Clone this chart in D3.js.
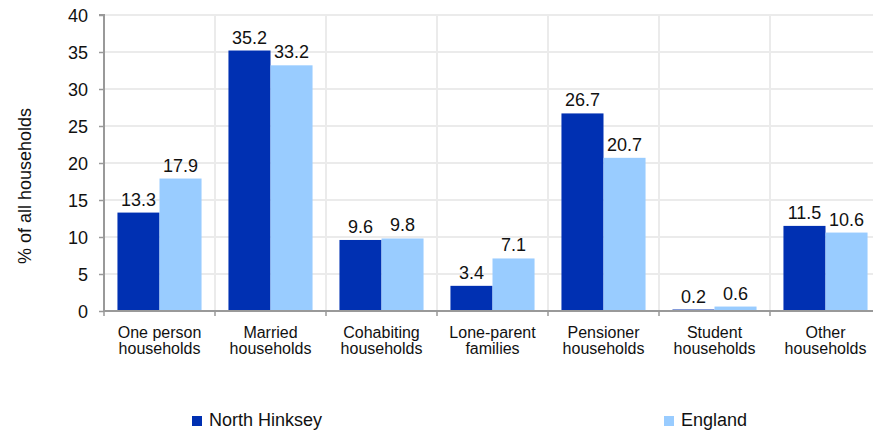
<!DOCTYPE html>
<html>
<head>
<meta charset="utf-8">
<script src="https://cdn.jsdelivr.net/npm/d3@7"></script>
<style>
html,body{margin:0;padding:0;background:#fff;}
svg{display:block;}
text{font-family:"Liberation Sans",Arial,sans-serif;fill:#111;}
</style>
</head>
<body>
<svg id="chart" width="873" height="432"></svg>
<script>
const categories = [
  ["One person","households"],
  ["Married","households"],
  ["Cohabiting","households"],
  ["Lone-parent","families"],
  ["Pensioner","households"],
  ["Student","households"],
  ["Other","households"]
];
const seriesNames = ["North Hinksey","England"];
const northHinksey = [13.3, 35.2, 9.6, 3.4, 26.7, 0.2, 11.5];
const england = [17.9, 33.2, 9.8, 7.1, 20.7, 0.6, 10.6];
const yTicks = [0,5,10,15,20,25,30,35,40];
const colors = ["#0030b2","#99ccff"];

const svg = d3.select("#chart");
const m = {left:104, top:15, right:881, bottom:311};
const keys = categories.map((c,i)=>i);
const x = d3.scaleBand().domain(keys).range([m.left, m.right]).padding(0);
const xi = d3.scaleBand().domain([0,1]).range([0, x.bandwidth()]).paddingInner(0).paddingOuter(0.32);
const y = d3.scaleLinear().domain([0,40]).range([m.bottom, m.top]);
const series = [northHinksey, england];

// grid
const g = svg.append("g");
g.selectAll("line.hg").data(yTicks.filter(d=>d>0)).join("line")
  .attr("x1", m.left).attr("x2", m.right)
  .attr("y1", d=>y(d)).attr("y2", d=>y(d))
  .attr("stroke","#ebebeb").attr("stroke-width",2);
g.selectAll("line.vg").data(keys.slice(1)).join("line")
  .attr("x1", d=>x(d)).attr("x2", d=>x(d))
  .attr("y1", m.top).attr("y2", m.bottom)
  .attr("stroke","#ebebeb").attr("stroke-width",2);
g.append("line").attr("x1", m.right).attr("x2", m.right).attr("y1", m.top).attr("y2", m.bottom)
  .attr("stroke","#ebebeb").attr("stroke-width",2);

// bars
series.forEach((vals, si)=>{
  svg.append("g").selectAll("rect").data(vals).join("rect")
    .attr("x",(d,i)=>x(i)+xi(si))
    .attr("width", xi.bandwidth())
    .attr("y", d=>y(d))
    .attr("height", d=>y(0)-y(d))
    .attr("fill", colors[si]);
  svg.append("g").selectAll("text").data(vals).join("text")
    .attr("x",(d,i)=>x(i)+xi(si)+xi.bandwidth()/2)
    .attr("y", d=>y(d)-7)
    .attr("text-anchor","middle")
    .attr("font-size","18px")
    .text(d=>d.toFixed(1));
});

// y axis
const yAxis = d3.axisLeft(y).tickValues(yTicks).tickSize(5).tickPadding(11).tickFormat(d3.format("d"));
const ya = svg.append("g").attr("transform",`translate(${m.left},0)`).call(yAxis);
ya.select(".domain").attr("stroke","#999").attr("stroke-width",2).attr("d",`M-5,${m.top}H0V${m.bottom}`);
ya.selectAll(".tick line").attr("stroke","#999").attr("stroke-width",1.5);
ya.selectAll(".tick text").attr("font-size","18px").attr("font-family","Liberation Sans, Arial, sans-serif").attr("fill","#111").attr("dy","0.36em");

// x axis
const xa = svg.append("g").attr("transform",`translate(0,${m.bottom})`);
xa.append("line").attr("x1", m.left).attr("x2", m.right).attr("y1",0).attr("y2",0)
  .attr("stroke","#999").attr("stroke-width",2);
xa.selectAll("line.t").data(keys.concat([keys.length])).join("line")
  .attr("x1", d=>m.left + d*x.step()).attr("x2", d=>m.left + d*x.step())
  .attr("y1",0).attr("y2",5).attr("stroke","#999").attr("stroke-width",1.5);
xa.selectAll("text").data(keys).join("text")
  .attr("x", d=>x(d)+x.bandwidth()/2)
  .attr("y", 27)
  .attr("text-anchor","middle")
  .attr("font-size","16px")
  .each(function(d){
    const t = d3.select(this);
    categories[d].forEach((ln,li)=>{
      t.append("tspan").attr("x", x(d)+x.bandwidth()/2).attr("dy", li===0?0:"16px").text(ln);
    });
  });

// y title
svg.append("text")
  .attr("transform","translate(31,186) rotate(-90)")
  .attr("text-anchor","middle")
  .attr("font-size","18px")
  .text("% of all households");

// legend
const legendX = [192, 664];
seriesNames.forEach((n,i)=>{
  svg.append("rect").attr("x",legendX[i]).attr("y",416).attr("width",10).attr("height",10).attr("fill",colors[i]);
  svg.append("text").attr("x",legendX[i]+17).attr("y",426).attr("font-size","18px").text(n);
});
</script>
</body>
</html>
